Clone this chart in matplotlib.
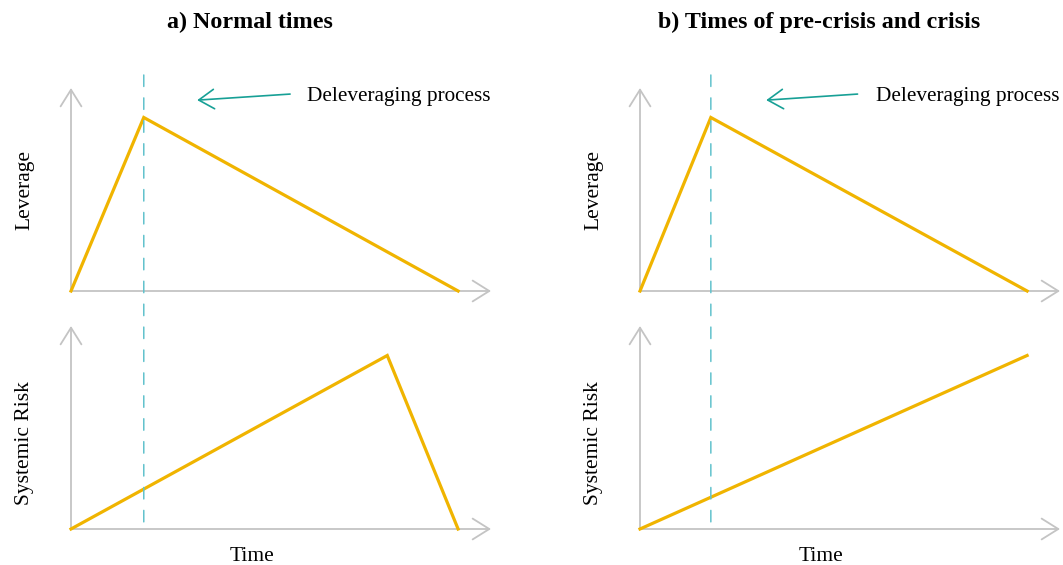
import matplotlib
matplotlib.use("Agg")
import matplotlib.pyplot as plt
from matplotlib.patches import ConnectionPatch

plt.rcParams['font.family'] = ['Liberation Serif', 'DejaVu Serif']

# Panel titles and axis labels
titles = ["a) Normal times", "b) Times of pre-crisis and crisis"]
row_labels = ["Leverage", "Systemic Risk"]
x_label = "Time"
note = "Deleveraging process"

# Schematic paths (time, level) for each panel
lev_normal_t = [0.0, 1.88, 10.0]
lev_normal_v = [0.0, 1.0, 0.0]
risk_normal_t = [0.0, 8.17, 10.0]
risk_normal_v = [0.0, 1.0, 0.0]

lev_crisis_t = [0.0, 1.83, 10.0]
lev_crisis_v = [0.0, 1.0, 0.0]
risk_crisis_t = [0.0, 10.0]
risk_crisis_v = [0.0, 1.0]

# Time at which deleveraging begins
turn_normal = 1.88
turn_crisis = 1.83

X_END = 10.85
Y_END = 1.17

LINE_C = "#f0b400"
AXIS_C = "#c4c4c4"
DASH_C = "#62c2cd"
NOTE_C = "#17a096"

W, H = 1063, 565
fig = plt.figure(figsize=(W / 100, H / 100), dpi=100)


def px_axes(x0, y_bottom, width, height):
    return fig.add_axes([x0 / W, 1 - y_bottom / H, width / W, height / H])


def draw_frame(ax):
    ax.set_xlim(0, X_END)
    ax.set_ylim(0, Y_END)
    ax.axis("off")
    arrow = dict(arrowstyle="->,head_length=1.2,head_width=0.75",
                 color=AXIS_C, lw=1.3, shrinkA=0, shrinkB=0)
    ax.annotate("", xy=(X_END, 0), xytext=(0, 0), arrowprops=arrow,
                annotation_clip=False)
    ax.annotate("", xy=(0, Y_END), xytext=(0, 0), arrowprops=arrow,
                annotation_clip=False)


panels = [
    # x offset, title, leverage path, risk path, turn, note arrow tip/tail x, note text x
    (71, titles[0], (lev_normal_t, lev_normal_v), (risk_normal_t, risk_normal_v),
     turn_normal, 3.26, 5.66, 6.1),
    (640, titles[1], (lev_crisis_t, lev_crisis_v), (risk_crisis_t, risk_crisis_v),
     turn_crisis, 3.26, 5.62, 6.1),
]

for x0, title, lev, risk, turn, tip_x, tail_x, text_x in panels:
    ax_top = px_axes(x0, 291, 420, 203)
    ax_bot = px_axes(x0, 529, 420, 203)
    for ax in (ax_top, ax_bot):
        draw_frame(ax)

    ax_top.plot(lev[0], lev[1], color=LINE_C, lw=2.3, solid_joinstyle="miter",
                clip_on=False, zorder=3)
    ax_bot.plot(risk[0], risk[1], color=LINE_C, lw=2.3, solid_joinstyle="miter",
                clip_on=False, zorder=3)

    # Dashed marker running through both rows
    con = ConnectionPatch(xyA=(turn, 1.245), coordsA=ax_top.transData,
                          xyB=(turn, 0), coordsB=ax_bot.transData,
                          color=DASH_C, lw=1.1, linestyle=(0, (7.5, 7.5)), zorder=1)
    fig.add_artist(con)

    ax_top.annotate("", xy=(tip_x, 1.10), xytext=(tail_x, 1.135),
                    arrowprops=dict(arrowstyle="->,head_length=1.1,head_width=0.7",
                                    color=NOTE_C, lw=1.2, shrinkA=0, shrinkB=0),
                    annotation_clip=False)
    ax_top.text(text_x, 1.12, note, fontsize=15.3, va="center", ha="left",
                clip_on=False)

    ax_top.text(0.427, 1.325, title, transform=ax_top.transAxes, fontsize=17.3,
                fontweight="bold", ha="center", va="center")

    ax_top.text(-0.11, 0.5, row_labels[0], transform=ax_top.transAxes, rotation=90,
                fontsize=15.5, ha="center", va="center")
    ax_bot.text(-0.11, 0.424, row_labels[1], transform=ax_bot.transAxes, rotation=90,
                fontsize=15.5, ha="center", va="center")
    ax_bot.text(0.43, -0.135, x_label, transform=ax_bot.transAxes,
                fontsize=15.5, ha="center", va="center")

fig.savefig("out.png", dpi=100)
